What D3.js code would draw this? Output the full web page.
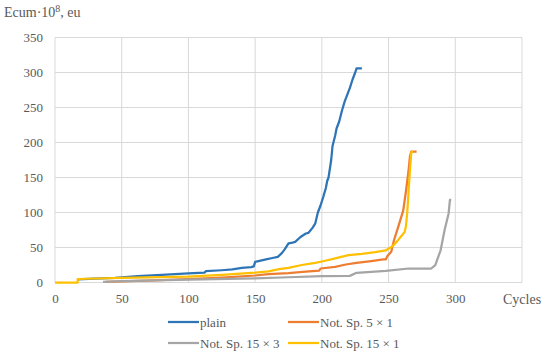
<!DOCTYPE html>
<html>
<head>
<meta charset="utf-8">
<script src="https://cdn.jsdelivr.net/npm/d3@7"></script>
<style>
  body { margin: 0; background: #fff; }
</style>
</head>
<body>
<svg width="550" height="354"></svg>
<script>
// cumulative energy vs cycles
const plainData = [[17,4.5],[30,5.5],[45,6.5],[55,8],[62,9],[80,11],[100,13],[112,14],[113,16.2],[125,17.5],[133,18.6],[140,21],[147,22],[149,23],[150,29.5],[159,33.3],[163,35],[167,36.7],[170,42],[172,47],[175,56],[178,57],[180,58],[184,65],[188,70],[190,71],[193,78],[195,84],[197,100],[199,110],[201,122],[203,135],[204,145],[205,150],[207,175],[208,195],[210,210],[211,220],[213,230],[215,245],[217,258],[219,268],[221,278],[223,290],[225,300],[226,306],[230,306]];
const sp5x1Data = [[38,1],[50,1.5],[75,3],[100,5],[125,7],[150,10],[160,12],[175,13.5],[188,15.5],[198,17],[199,20],[210,22.4],[218,25.7],[226,28],[237,30.5],[246,32.9],[248,33],[249,37.6],[252,43.8],[254,60],[258,84],[261,103],[263,130],[265,160],[266,180],[267,187],[271,187]];
const sp15x3Data = [[36,1],[50,2],[100,4],[150,6],[175,7.5],[200,9],[221,9.5],[226,13.8],[248,16.7],[265,20],[282,20],[285,24.8],[289,46],[292,75],[295,98.6],[296,118],[297,118]];
const sp15x1Data = [[0,0],[17,0],[17,5],[50,6.5],[100,8.5],[125,11],[150,14],[160,16],[168,19],[175,21],[185,25],[195,28],[200,30],[207,33],[213,36],[220,39],[230,41],[240,43.5],[248,46],[253,52],[256,58],[259,65],[262,72],[263,80],[264,100],[265,130],[266,160],[267,185],[268,188]];

const xTicks = [0, 50, 100, 150, 200, 250, 300, 350];
const yTicks = [0, 50, 100, 150, 200, 250, 300, 350];

const series = [
  {name: "plain", color: "#2E75B6", data: plainData},
  {name: "Not. Sp. 5 × 1", color: "#ED7D31", data: sp5x1Data},
  {name: "Not. Sp. 15 × 3", color: "#A5A5A5", data: sp15x3Data},
  {name: "Not. Sp. 15 × 1", color: "#FFC000", data: sp15x1Data}
];

const serif = "Liberation Serif";
const textColor = "#595959";

let svg = d3.select("svg");

let x = d3.scaleLinear().domain([0, 350]).range([55, 522]);
let y = d3.scaleLinear().domain([0, 350]).range([282.5, 37.5]);

// grid
let grid = svg.append("g");
grid.selectAll(".hg").data(yTicks).enter().append("line")
    .attr("x1", x(0)).attr("x2", x(350))
    .attr("y1", d => y(d)).attr("y2", d => y(d))
    .attr("stroke", "#d9d9d9").attr("stroke-width", 1);
grid.selectAll(".vg").data(xTicks).enter().append("line")
    .attr("x1", d => x(d)).attr("x2", d => x(d))
    .attr("y1", y(0)).attr("y2", y(350))
    .attr("stroke", "#d9d9d9").attr("stroke-width", 1);

// axes, just labels
let yAxis = svg.append("g").attr("transform", "translate(" + x(0) + ",0)")
    .call(d3.axisLeft(y).tickValues(yTicks).tickSize(0).tickPadding(12));
yAxis.attr("font-family", serif).attr("font-size", 13);
yAxis.select(".domain").remove();
yAxis.selectAll("text").attr("fill", textColor);

let xAxis = svg.append("g").attr("transform", "translate(0," + y(0) + ")")
    .call(d3.axisBottom(x).tickValues(xTicks.slice(0, -1)).tickSize(0).tickPadding(11));
xAxis.attr("font-family", serif).attr("font-size", 13);
xAxis.select(".domain").remove();
xAxis.selectAll("text").attr("fill", textColor);

svg.append("text").attr("x", 503).attr("y", 304)
    .attr("font-family", serif).attr("font-size", 14).attr("fill", textColor).text("Cycles");

let yLabel = svg.append("text").attr("x", 4).attr("y", 17)
    .attr("font-family", serif).attr("font-size", 14).attr("fill", textColor);
yLabel.append("tspan").text("Ecum·10");
yLabel.append("tspan").attr("dy", -5).attr("font-size", 10).text("8");
yLabel.append("tspan").attr("dy", 5).text(", eu");

// lines
let line = d3.line().x(d => x(d[0])).y(d => y(d[1]));
svg.append("g").selectAll("path").data(series).enter().append("path")
    .attr("d", d => line(d.data))
    .attr("fill", "none")
    .attr("stroke", d => d.color)
    .attr("stroke-width", 2.25)
    .attr("stroke-linejoin", "round");

// legend
const legendPos = [[168, 322], [288, 322], [168, 343], [288, 343]];
let legend = svg.append("g").selectAll("g").data(series).enter().append("g")
    .attr("transform", (d, i) => "translate(" + legendPos[i][0] + "," + legendPos[i][1] + ")");
legend.append("line").attr("x1", 0).attr("x2", 31).attr("y1", 0).attr("y2", 0)
    .attr("stroke", d => d.color).attr("stroke-width", 2.25);
legend.append("text").attr("x", 32).attr("y", 4.5)
    .attr("font-family", serif).attr("font-size", 13).attr("fill", textColor).text(d => d.name);
</script>
</body>
</html>
